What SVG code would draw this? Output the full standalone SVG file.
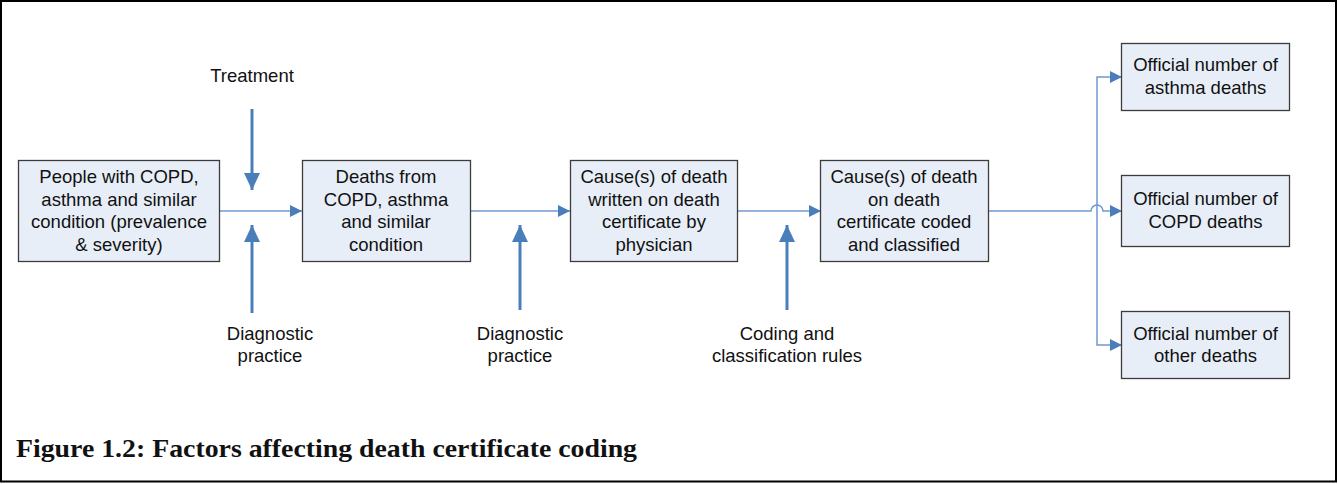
<svg xmlns="http://www.w3.org/2000/svg" width="1338" height="484" viewBox="0 0 1338 484">
<style>
.box{fill:#e8eef8;stroke:#3c3c3c;stroke-width:1.3}
.t{font-family:"Liberation Sans",Arial,sans-serif;font-size:18.5px;fill:#111;text-anchor:middle}
.thin{fill:none;stroke:#6f98d2;stroke-width:1.5}
.thick{fill:none;stroke:#4a7ebb;stroke-width:3}
.title{font-family:"Liberation Serif","Times New Roman",serif;font-size:25px;font-weight:bold;fill:#111}
</style>
<defs>
<marker id="ah" markerUnits="userSpaceOnUse" markerWidth="12" markerHeight="12" refX="12" refY="6" orient="auto"><path d="M0,0 L12,6 L0,12 z" fill="#4a7ebb"/></marker>
<marker id="AH" markerUnits="userSpaceOnUse" markerWidth="17" markerHeight="16" refX="17" refY="8" orient="auto"><path d="M0,0 L17,8 L0,16 z" fill="#4a7ebb"/></marker>
</defs>
<rect x="1" y="1" width="1335" height="480.5" fill="#fff" stroke="#000" stroke-width="2"/>

<g id="connectors">
<path class="thin" d="M219,211 H302" marker-end="url(#ah)"/>
<path class="thin" d="M470,211 H570" marker-end="url(#ah)"/>
<path class="thin" d="M738,211 H821" marker-end="url(#ah)"/>
<path class="thin" d="M988,211 H1091 A6,6 0 0 1 1103,211 H1122" marker-end="url(#ah)"/>
<path class="thin" d="M1097,211 V77 H1122" marker-end="url(#ah)"/>
<path class="thin" d="M1097,211 V345 H1122" marker-end="url(#ah)"/>
<path class="thick" d="M252,109 V190" marker-end="url(#AH)"/>
<path class="thick" d="M252,313 V225" marker-end="url(#AH)"/>
<path class="thick" d="M520,310 V225" marker-end="url(#AH)"/>
<path class="thick" d="M787,310 V225" marker-end="url(#AH)"/>
</g>

<g id="n1"><rect class="box" x="18.5" y="160.5" width="201" height="101"/>
<text class="t" x="119" y="183">People with COPD,</text><text class="t" x="119" y="205.5">asthma and similar</text><text class="t" x="119" y="228">condition (prevalence</text><text class="t" x="119" y="250.5">&amp; severity)</text></g>
<g id="n2"><rect class="box" x="302.5" y="160.5" width="168" height="101"/>
<text class="t" x="386" y="183">Deaths from</text><text class="t" x="386" y="205.5">COPD, asthma</text><text class="t" x="386" y="228">and similar</text><text class="t" x="386" y="250.5">condition</text></g>
<g id="n3"><rect class="box" x="570.5" y="160.5" width="167" height="101"/>
<text class="t" x="654" y="183">Cause(s) of death</text><text class="t" x="654" y="205.5">written on death</text><text class="t" x="654" y="228">certificate by</text><text class="t" x="654" y="250.5">physician</text></g>
<g id="n4"><rect class="box" x="820.5" y="160.5" width="168" height="101"/>
<text class="t" x="904" y="183">Cause(s) of death</text><text class="t" x="904" y="205.5">on death</text><text class="t" x="904" y="228">certificate coded</text><text class="t" x="904" y="250.5">and classified</text></g>
<g id="o1"><rect class="box" x="1121.5" y="43.5" width="168" height="67"/>
<text class="t" x="1205.5" y="71">Official number of</text><text class="t" x="1205.5" y="93.5">asthma deaths</text></g>
<g id="o2"><rect class="box" x="1121.5" y="175.5" width="168" height="71"/>
<text class="t" x="1205.5" y="205">Official number of</text><text class="t" x="1205.5" y="227.5">COPD deaths</text></g>
<g id="o3"><rect class="box" x="1121.5" y="311.5" width="168" height="67"/>
<text class="t" x="1205.5" y="340">Official number of</text><text class="t" x="1205.5" y="362">other deaths</text></g>

<g id="f1"><text class="t" x="252" y="81.5">Treatment</text></g>
<g id="f2"><text class="t" x="270" y="339.5">Diagnostic</text><text class="t" x="270" y="361.5">practice</text></g>
<g id="f3"><text class="t" x="520" y="339.5">Diagnostic</text><text class="t" x="520" y="361.5">practice</text></g>
<g id="f4"><text class="t" x="787" y="339.5">Coding and</text><text class="t" x="787" y="361.5">classification rules</text></g>

<text class="title" x="16" y="457" textLength="621" lengthAdjust="spacingAndGlyphs">Figure 1.2: Factors affecting death certificate coding</text>
</svg>
